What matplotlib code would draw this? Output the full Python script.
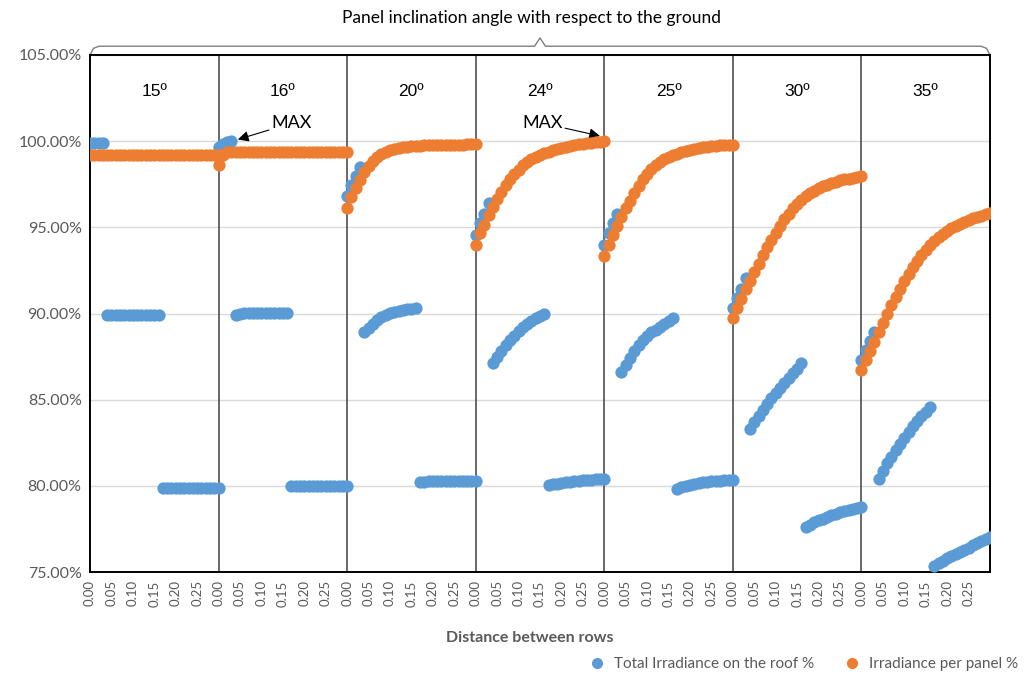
import matplotlib
matplotlib.use('Agg')
import matplotlib.pyplot as plt
from matplotlib.lines import Line2D

plt.rcParams['font.family'] = ['Lato', 'DejaVu Sans']

# distance between rows (m), same grid in every panel
dist = [0.00, 0.01, 0.02, 0.03, 0.04, 0.05, 0.06, 0.07, 0.08, 0.09, 0.10,
        0.11, 0.12, 0.13, 0.14, 0.15, 0.16, 0.17, 0.18, 0.19, 0.20,
        0.21, 0.22, 0.23, 0.24, 0.25, 0.26, 0.27, 0.28, 0.29, 0.30]

angles = ['15º', '16º', '20º', '24º', '25º', '30º', '35º']
tick_labels = ['0.00', '0.05', '0.10', '0.15', '0.20', '0.25']
panel_width = 0.30

# Total Irradiance on the roof %
roof_15 = [99.88, 99.88, 99.88, 99.88,
           89.92, 89.92, 89.92, 89.92, 89.92, 89.92, 89.92, 89.92, 89.92, 89.92, 89.92, 89.92, 89.92,
           79.88, 79.88, 79.88, 79.88, 79.88, 79.88, 79.88, 79.88, 79.88, 79.88, 79.88, 79.88, 79.88, 79.88]
roof_16 = [99.65, 99.85, 99.95, 100.02,
           89.9, 89.98, 90.02, 90.03, 90.04, 90.04, 90.05, 90.05, 90.05, 90.05, 90.05, 90.05, 90.05,
           79.98, 80.0, 80.0, 80.0, 80.0, 80.0, 80.0, 80.0, 80.0, 80.0, 80.0, 80.0, 80.0, 80.0]
roof_20 = [96.8, 97.45, 98.0, 98.5,
           88.95, 89.15, 89.4, 89.6, 89.78, 89.93, 90.03, 90.1, 90.17, 90.22, 90.26, 90.29, 90.32,
           80.24, 80.25, 80.26, 80.26, 80.27, 80.27, 80.28, 80.28, 80.28, 80.29, 80.29, 80.29, 80.3, 80.3]
roof_24 = [94.55, 95.25, 95.8, 96.4,
           87.15, 87.5, 87.85, 88.15, 88.45, 88.72, 88.97, 89.2, 89.4, 89.56, 89.72, 89.85, 89.97,
           80.02, 80.08, 80.13, 80.17, 80.21, 80.24, 80.27, 80.3, 80.32, 80.34, 80.36, 80.38, 80.39, 80.4]
roof_25 = [93.97, 94.67, 95.25, 95.8,
           86.6, 87.0, 87.4, 87.8, 88.15, 88.45, 88.7, 88.9, 89.07, 89.23, 89.4, 89.55, 89.72,
           79.83, 79.92, 80.0, 80.07, 80.12, 80.16, 80.2, 80.23, 80.26, 80.28, 80.3, 80.32, 80.34, 80.35]
roof_30 = [90.3, 90.9, 91.45, 92.05,
           83.3, 83.7, 84.07, 84.42, 84.76, 85.08, 85.4, 85.7, 85.98, 86.25, 86.52, 86.8, 87.1,
           77.62, 77.75, 77.88, 78.0, 78.1, 78.2, 78.3, 78.38, 78.46, 78.54, 78.6, 78.67, 78.73, 78.78]
roof_35 = [87.3, 87.9, 88.4, 88.9,
           80.4, 80.85, 81.3, 81.7, 82.1, 82.45, 82.8, 83.12, 83.45, 83.75, 84.05, 84.3, 84.55,
           75.35, 75.5, 75.65, 75.8, 75.93, 76.05, 76.17, 76.3, 76.42, 76.55, 76.68, 76.8, 76.93, 77.05]

# Irradiance per panel %
panel_15 = [99.2, 99.2, 99.2, 99.2, 99.2, 99.2, 99.2, 99.2, 99.2, 99.2, 99.2,
            99.2, 99.2, 99.2, 99.2, 99.2, 99.2, 99.2, 99.2, 99.2, 99.2,
            99.2, 99.2, 99.2, 99.2, 99.2, 99.2, 99.2, 99.2, 99.2, 99.2]
panel_16 = [98.6, 99.2, 99.38, 99.4, 99.4, 99.4, 99.4, 99.4, 99.4, 99.4, 99.4,
            99.4, 99.4, 99.4, 99.4, 99.4, 99.4, 99.4, 99.4, 99.4, 99.4,
            99.4, 99.4, 99.4, 99.4, 99.4, 99.4, 99.4, 99.4, 99.4, 99.4]
panel_20 = [96.1, 96.75, 97.3, 97.75, 98.2, 98.55, 98.85, 99.1, 99.28, 99.4, 99.5,
            99.57, 99.62, 99.66, 99.69, 99.71, 99.73, 99.74, 99.75, 99.76, 99.77,
            99.78, 99.78, 99.79, 99.79, 99.8, 99.8, 99.8, 99.81, 99.81, 99.81]
panel_24 = [93.95, 94.65, 95.15, 95.7, 96.2, 96.65, 97.05, 97.45, 97.8, 98.1, 98.35,
            98.6, 98.8, 98.97, 99.1, 99.2, 99.3, 99.4, 99.48, 99.56, 99.63,
            99.69, 99.74, 99.78, 99.82, 99.86, 99.89, 99.92, 99.95, 99.97, 100.0]
panel_25 = [93.35, 94.0, 94.55, 95.07, 95.6, 96.1, 96.55, 97.0, 97.4, 97.78, 98.1,
            98.38, 98.6, 98.8, 98.95, 99.07, 99.18, 99.28, 99.36, 99.44, 99.5,
            99.56, 99.6, 99.64, 99.67, 99.7, 99.73, 99.75, 99.77, 99.79, 99.8]
panel_30 = [89.75, 90.3, 90.85, 91.4, 91.9, 92.4, 92.9, 93.38, 93.85, 94.28, 94.7,
            95.1, 95.48, 95.8, 96.1, 96.36, 96.58, 96.8, 96.98, 97.13, 97.27,
            97.38, 97.48, 97.57, 97.65, 97.72, 97.78, 97.83, 97.88, 97.93, 97.97]
panel_35 = [86.7, 87.3, 87.8, 88.35, 88.9, 89.45, 89.97, 90.48, 90.97, 91.45, 91.9,
            92.32, 92.7, 93.07, 93.4, 93.7, 93.97, 94.2, 94.43, 94.63, 94.8,
            94.96, 95.1, 95.22, 95.33, 95.43, 95.52, 95.6, 95.68, 95.76, 95.83]

roof = [roof_15, roof_16, roof_20, roof_24, roof_25, roof_30, roof_35]
per_panel = [panel_15, panel_16, panel_20, panel_24, panel_25, panel_30, panel_35]

blue = '#5B9BD5'
orange = '#ED7D31'
grey_txt = '#595959'

fig = plt.figure(figsize=(10.34, 6.77), dpi=100)
ax = fig.add_axes([90 / 1034, 1 - 572 / 677, 900 / 1034, 517 / 677])

n = len(angles)
for i in range(n):
    xs = [i * panel_width + d for d in dist]
    ax.scatter(xs, roof[i], s=78, color=blue, linewidths=0, zorder=3)
for i in range(n):
    xs = [i * panel_width + d for d in dist]
    ax.scatter(xs, per_panel[i], s=78, color=orange, linewidths=0, zorder=4)

# panel separators and angle labels
for i in range(1, n):
    ax.axvline(i * panel_width, color='#404040', lw=1.1, zorder=2)
for i, a in enumerate(angles):
    ax.text(i * panel_width + panel_width / 2, 102.9, a, ha='center', va='center',
            fontsize=12.5, color='black', family=['Liberation Sans', 'DejaVu Sans'])

ax.set_xlim(0, n * panel_width)
ax.set_ylim(75, 105)
yt = [75, 80, 85, 90, 95, 100, 105]
ax.set_yticks(yt)
ax.set_yticklabels([f'{v:.2f}%' for v in yt], fontsize=11.5, color=grey_txt)

xt, xl = [], []
for i in range(n):
    for j, lab in enumerate(tick_labels):
        xt.append(i * panel_width + j * 0.05)
        xl.append(lab)
ax.set_xticks(xt)
ax.set_xticklabels(xl, rotation=90, fontsize=9.5, color=grey_txt)
ax.tick_params(length=0, pad=6)

ax.yaxis.grid(True, color='#D9D9D9', lw=1)
ax.set_axisbelow(True)
for s in ax.spines.values():
    s.set_color('black')
    s.set_linewidth(1.4)

# MAX annotations
arrow = dict(arrowstyle='-|>', color='black', lw=0.8, mutation_scale=16,
             shrinkA=0, shrinkB=0)
ax.annotate('MAX', xy=(0.345, 100.1), xytext=(0.471, 101.05), ha='center', va='center',
            fontsize=13, arrowprops=arrow)
ax.annotate('MAX', xy=(1.19, 100.3), xytext=(1.055, 101.05), ha='center', va='center',
            fontsize=13, arrowprops=arrow)

# bracket on top
bx = [0.0, 0.004, 0.01, 0.494, 0.5, 0.506, 0.99, 0.996, 1.0]
by = [1.0, 1.013, 1.017, 1.017, 1.033, 1.017, 1.017, 1.013, 1.0]
ax.plot(bx, by, color='#7F7F7F', lw=1, transform=ax.transAxes, clip_on=False)
ax.text(0.49, 1.072, 'Panel inclination angle with respect to the ground',
        transform=ax.transAxes, ha='center', va='center', fontsize=12.5)

fig.text(530 / 1034, 1 - 638 / 677, 'Distance between rows', ha='center', va='center',
         fontsize=11.5, fontweight='bold', color=grey_txt)

handles = [Line2D([], [], ls='none', marker='o', ms=7, color=blue),
           Line2D([], [], ls='none', marker='o', ms=7, color=orange)]
fig.legend(handles, ['Total Irradiance on the roof %', 'Irradiance per panel %'],
           loc='center right', bbox_to_anchor=(1032 / 1034, 1 - 664 / 677), ncol=2,
           frameon=False, fontsize=11, handletextpad=0.1, columnspacing=1.5,
           labelcolor=grey_txt)

fig.savefig('out.png', dpi=100)
